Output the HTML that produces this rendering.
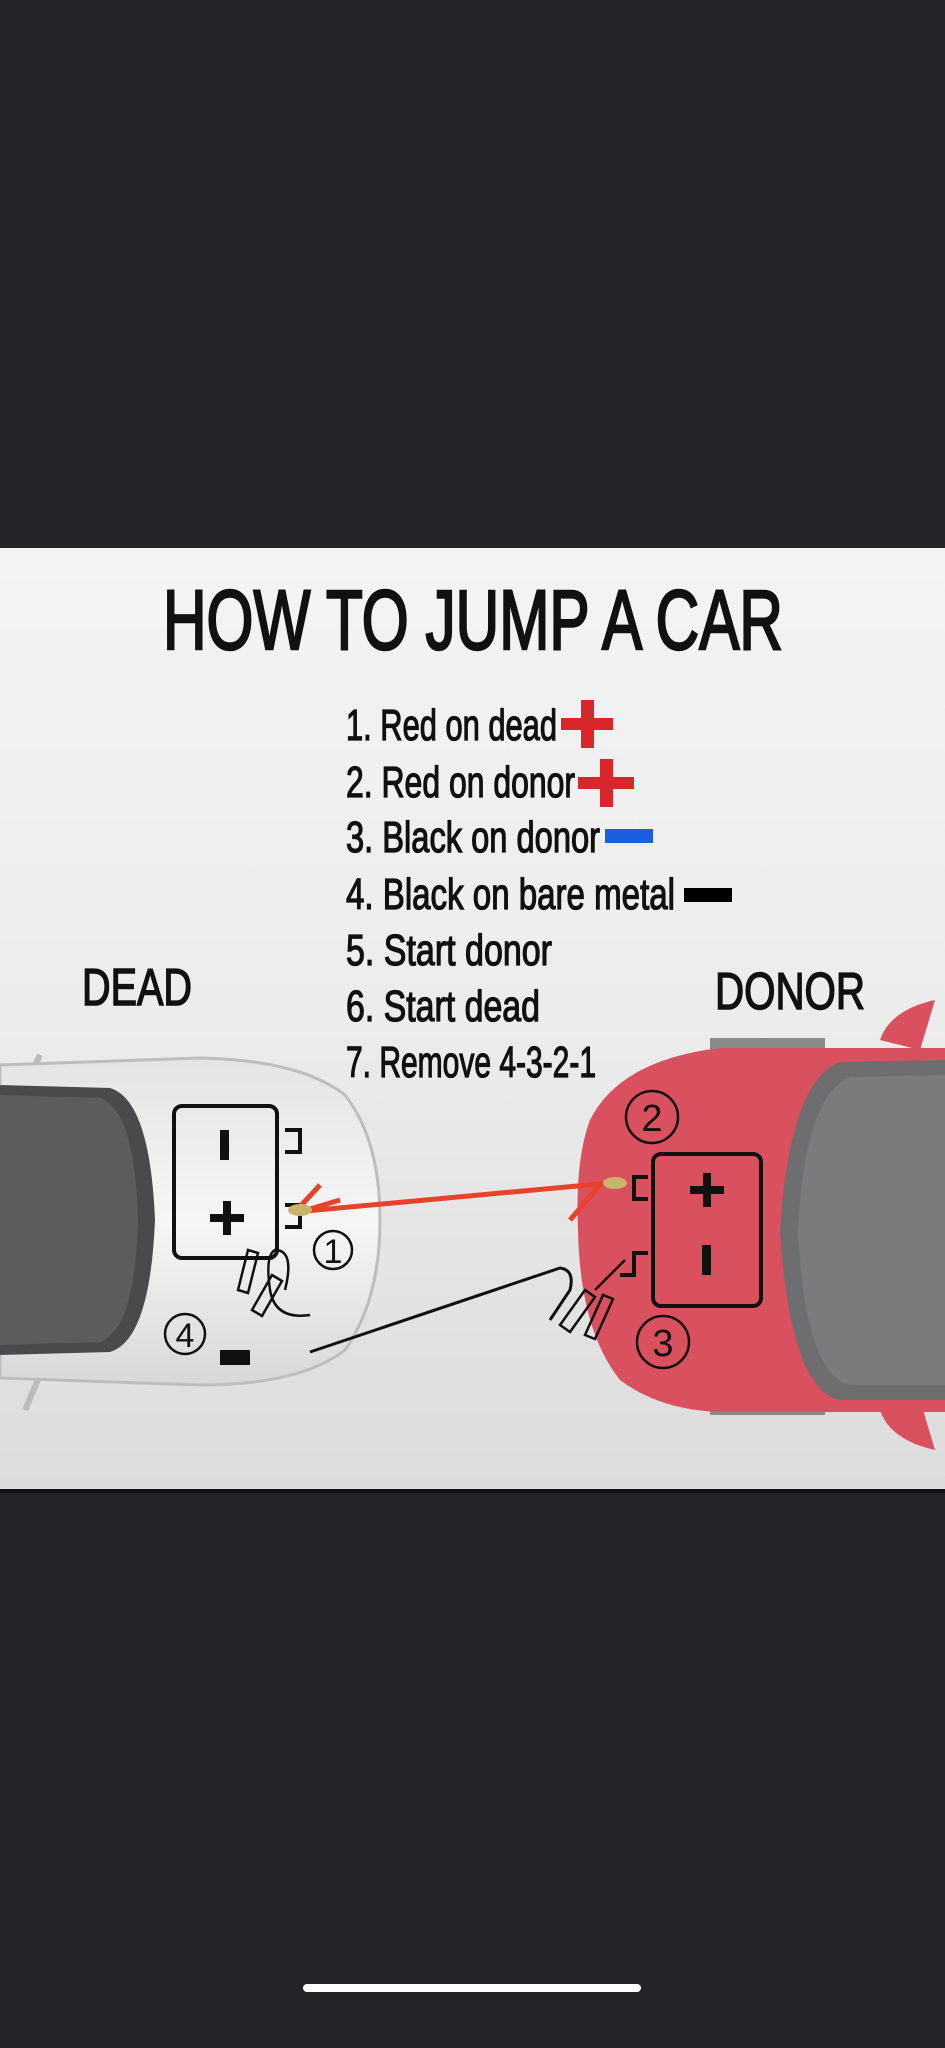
<!DOCTYPE html>
<html><head><meta charset="utf-8"><style>
html,body{margin:0;padding:0;background:#232428;width:945px;height:2048px;overflow:hidden}
svg{display:block}
text{font-family:"Liberation Sans Narrow","Liberation Sans",sans-serif}
</style></head><body>
<svg width="945" height="2048" viewBox="0 0 945 2048" xmlns="http://www.w3.org/2000/svg">
<defs>
<linearGradient id="bg" x1="0" y1="0" x2="0" y2="1">
<stop offset="0" stop-color="#f4f4f4"/><stop offset="0.5" stop-color="#ececec"/><stop offset="1" stop-color="#dcdcdc"/>
</linearGradient>
<linearGradient id="silver" x1="0" y1="0" x2="0" y2="1">
<stop offset="0" stop-color="#e4e4e4"/><stop offset="0.5" stop-color="#f6f6f6"/><stop offset="1" stop-color="#d8d8d8"/>
</linearGradient>
</defs>
<rect x="0" y="0" width="945" height="2048" fill="#232428"/>
<rect x="0" y="548" width="945" height="944" fill="url(#bg)"/>
<rect x="0" y="1489" width="945" height="4" fill="#111"/>

<text x="473" y="649" font-size="84" text-anchor="middle" fill="#111" stroke="#111" stroke-width="2.5" textLength="620" lengthAdjust="spacingAndGlyphs">HOW TO JUMP A CAR</text>

<g font-size="44" fill="#111" stroke="#111" stroke-width="1.3">
<text x="346" y="740" textLength="211" lengthAdjust="spacingAndGlyphs">1. Red on dead</text>
<text x="346" y="797" textLength="229" lengthAdjust="spacingAndGlyphs">2. Red on donor</text>
<text x="346" y="852" textLength="254" lengthAdjust="spacingAndGlyphs">3. Black on donor</text>
<text x="346" y="909" textLength="329" lengthAdjust="spacingAndGlyphs">4. Black on bare metal</text>
<text x="346" y="965" textLength="206" lengthAdjust="spacingAndGlyphs">5. Start donor</text>
<text x="346" y="1021" textLength="194" lengthAdjust="spacingAndGlyphs">6. Start dead</text>
<text x="346" y="1077" textLength="250" lengthAdjust="spacingAndGlyphs">7. Remove 4-3-2-1</text>
</g>
<g fill="#d8262c">
<rect x="561" y="718" width="52" height="12"/><rect x="581" y="700" width="13" height="48"/>
<rect x="578" y="777" width="56" height="12"/><rect x="600" y="759" width="13" height="48"/>
</g>
<rect x="605" y="829" width="48" height="14" fill="#1a5fe0"/>
<rect x="684" y="888" width="48" height="14" fill="#000"/>

<text x="82" y="1005" font-size="52" fill="#111" stroke="#111" stroke-width="1.5" textLength="110" lengthAdjust="spacingAndGlyphs">DEAD</text>
<text x="715" y="1009" font-size="52" fill="#111" stroke="#111" stroke-width="1.5" textLength="150" lengthAdjust="spacingAndGlyphs">DONOR</text>

<!-- silver car -->
<path d="M40 1055 L30 1075 M40 1375 L25 1410" stroke="#bbb" stroke-width="6"/>
<path d="M0 1065 L200 1058 Q300 1060 345 1095 Q380 1140 380 1220 Q380 1300 345 1350 Q300 1385 200 1385 L0 1378 Z" fill="url(#silver)" stroke="#bdbdbd" stroke-width="3"/>
<path d="M0 1085 L110 1088 Q150 1100 155 1220 Q150 1340 110 1352 L0 1355 Z" fill="#4a4a4c"/>
<path d="M0 1095 L100 1098 Q135 1110 138 1220 Q135 1330 100 1342 L0 1345 Z" fill="#5c5c5e"/>
<!-- dead battery -->
<rect x="174" y="1106" width="103" height="152" rx="8" fill="none" stroke="#111" stroke-width="4"/>
<rect x="220" y="1130" width="9" height="30" fill="#111"/>
<rect x="210" y="1214" width="34" height="8" fill="#111"/><rect x="223" y="1201" width="8" height="34" fill="#111"/>
<path d="M285 1130 h15 v22 h-15 M285 1205 h15 v22 h-15" fill="none" stroke="#111" stroke-width="4"/>
<circle cx="333" cy="1250" r="19" fill="none" stroke="#111" stroke-width="2.5"/>
<text x="333" y="1263" font-size="34" text-anchor="middle" fill="#111">1</text>
<circle cx="185" cy="1334" r="20" fill="none" stroke="#111" stroke-width="2.5"/>
<text x="185" y="1347" font-size="34" text-anchor="middle" fill="#111">4</text>
<!-- black clamp on dead -->
<path d="M238 1290 l10 -40 l10 3 l-10 40 Z M252 1310 l20 -35 l10 6 l-20 35 Z" fill="none" stroke="#111" stroke-width="2.5"/>
<path d="M285 1290 q10 -40 -10 -40 q-10 5 -5 40 q5 30 40 25" fill="none" stroke="#111" stroke-width="2.5"/>
<rect x="220" y="1350" width="30" height="15" fill="#111"/>
<!-- red car -->
<path d="M880 1040 Q890 1010 935 1000 L920 1050 Z M880 1410 Q890 1440 935 1450 L920 1400 Z" fill="#d9505e"/>
<rect x="710" y="1038" width="115" height="15" fill="#8a8a8a"/>
<rect x="710" y="1400" width="115" height="15" fill="#8a8a8a"/>
<path d="M945 1048 L720 1048 Q620 1060 590 1120 Q575 1160 578 1230 Q580 1330 620 1380 Q660 1410 720 1412 L945 1412 Z" fill="#d9505e"/>
<path d="M945 1060 L840 1062 Q790 1080 780 1230 Q790 1390 840 1400 L945 1400 Z" fill="#6e6e70"/>
<path d="M945 1075 L850 1077 Q805 1095 798 1230 Q805 1375 850 1385 L945 1385 Z" fill="#7b7b7d"/>
<!-- donor battery -->
<rect x="653" y="1154" width="108" height="152" rx="8" fill="none" stroke="#111" stroke-width="4"/>
<rect x="690" y="1186" width="34" height="8" fill="#111"/><rect x="703" y="1173" width="8" height="34" fill="#111"/>
<rect x="702" y="1245" width="9" height="30" fill="#111"/>
<path d="M648 1177 h-14 v22 h14 M648 1253 h-14 v22 h-14" fill="none" stroke="#111" stroke-width="4"/>
<circle cx="652" cy="1117" r="26" fill="none" stroke="#111" stroke-width="2.5"/>
<text x="652" y="1131" font-size="38" text-anchor="middle" fill="#111">2</text>
<circle cx="663" cy="1342" r="26" fill="none" stroke="#111" stroke-width="2.5"/>
<text x="663" y="1356" font-size="38" text-anchor="middle" fill="#111">3</text>
<!-- red cable -->
<path d="M295 1212 L610 1183" stroke="#e8412c" stroke-width="5"/>
<path d="M295 1212 L320 1185 M300 1212 L340 1200" stroke="#e8412c" stroke-width="5"/>
<path d="M600 1185 L570 1220" stroke="#e8412c" stroke-width="5"/>
<ellipse cx="300" cy="1210" rx="12" ry="6" fill="#c9b56a"/>
<ellipse cx="615" cy="1183" rx="12" ry="6" fill="#c9b56a"/>
<!-- black cable -->
<path d="M310 1352 L560 1268 Q575 1270 570 1290 L550 1320" fill="none" stroke="#111" stroke-width="3"/>
<path d="M560 1325 l25 -35 l10 7 l-25 35 Z M585 1335 l18 -40 l10 4 l-18 40 Z" fill="none" stroke="#111" stroke-width="2.5"/>
<path d="M595 1290 l30 -30" stroke="#111" stroke-width="2.5"/>

<rect x="303" y="1984" width="338" height="8" rx="4" fill="#fff"/>
</svg>
</body></html>
